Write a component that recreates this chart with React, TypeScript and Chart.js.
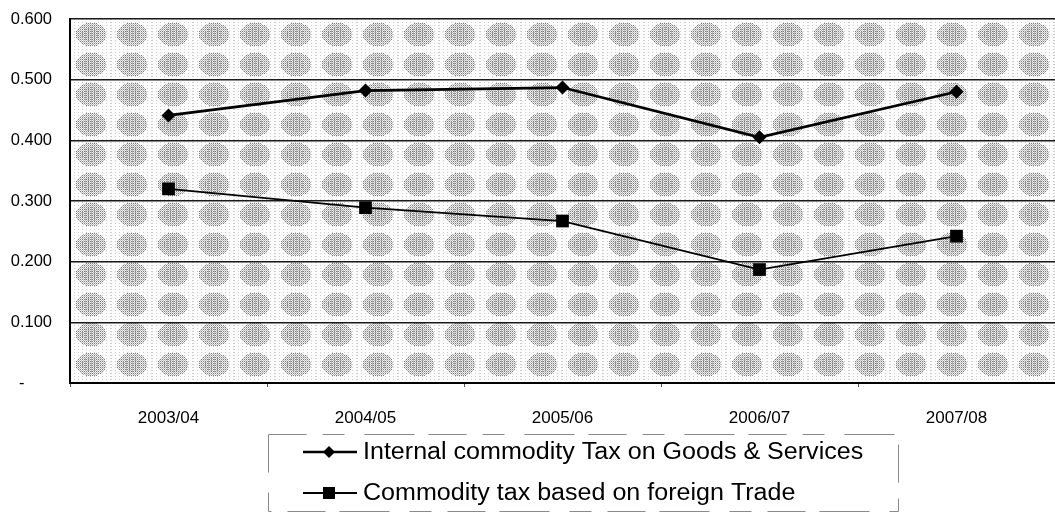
import React, { useEffect, useRef } from "react";
import { Chart, registerables } from "chart.js";

Chart.register(...registerables);

const categories = ["2003/04", "2004/05", "2005/06", "2006/07", "2007/08"];
const internalTax = [0.441, 0.482, 0.487, 0.405, 0.48];
const foreignTradeTax = [0.32, 0.289, 0.267, 0.187, 0.242];
const seriesNames = [
  "Internal commodity Tax on Goods & Services",
  "Commodity tax based on foreign Trade",
];

const FONT = '"Liberation Sans", Arial, sans-serif';

function makeTile(): HTMLCanvasElement {
  const w = 41;
  const h = 30;
  const c = document.createElement("canvas");
  c.width = w;
  c.height = h;
  const g = c.getContext("2d")!;
  const img = g.createImageData(w, h);
  for (let y = 0; y < h; y++) {
    for (let x = 0; x < w; x++) {
      const dx = (x - w / 2) / 15;
      const dy = (y - h / 2) / 12;
      const d = dx * dx + dy * dy;
      let v = 252;
      if (d < 1) {
        if ((x + y) % 2 === 0 && y % 2 === 0) v = 125;
        else if ((x + y) % 2 === 0) v = 190;
        else if (d < 0.35 && x % 3 === 0) v = 165;
        else v = 240;
      } else if (x % 4 === 0 && y % 3 === 0) {
        v = 205;
      }
      const i = (y * w + x) * 4;
      img.data[i] = v;
      img.data[i + 1] = v;
      img.data[i + 2] = v;
      img.data[i + 3] = 255;
    }
  }
  g.putImageData(img, 0, 0);
  return c;
}

const backgroundPlugin = {
  id: "bgPattern",
  beforeDraw(chart: any) {
    const { ctx, chartArea } = chart;
    const tile = makeTile();
    const pattern = ctx.createPattern(tile, "repeat");
    ctx.save();
    ctx.translate(chartArea.left, chartArea.top);
    ctx.fillStyle = pattern;
    ctx.fillRect(0, 0, chartArea.right - chartArea.left, chartArea.bottom - chartArea.top);
    ctx.restore();
  },
};

const legendPlugin = {
  id: "customLegend",
  afterDraw(chart: any) {
    const ctx: CanvasRenderingContext2D = chart.ctx;
    ctx.save();
    ctx.strokeStyle = "#8a8a8a";
    ctx.lineWidth = 1;
    ctx.setLineDash([38, 16, 22, 20, 50, 14]);
    ctx.strokeRect(268.5, 434.5, 630, 77);
    ctx.setLineDash([]);
    const rows = [452, 493];
    chart.data.datasets.forEach((ds: any, i: number) => {
      const y = rows[i];
      ctx.strokeStyle = "#000";
      ctx.lineWidth = ds.borderWidth;
      ctx.beginPath();
      ctx.moveTo(303, y);
      ctx.lineTo(357, y);
      ctx.stroke();
      ctx.fillStyle = "#000";
      ctx.beginPath();
      if (ds.pointStyle === "rectRot") {
        ctx.moveTo(329 - 6, y);
        ctx.lineTo(329, y - 6);
        ctx.lineTo(329 + 6, y);
        ctx.lineTo(329, y + 6);
        ctx.closePath();
      } else {
        ctx.rect(329 - 6, y - 6, 12, 12);
      }
      ctx.fill();
      ctx.save();
      ctx.translate(363, y);
      ctx.scale(1.09, 1);
      ctx.font = `23px ${FONT}`;
      ctx.textBaseline = "middle";
      ctx.textAlign = "left";
      ctx.fillStyle = "#000";
      ctx.fillText(ds.label, 0, 1);
      ctx.restore();
    });
    ctx.restore();
  },
};

export default function App() {
  const ref = useRef<HTMLCanvasElement | null>(null);
  useEffect(() => {
    if (!ref.current) return;
    const chart = new Chart(ref.current, {
      type: "line",
      data: {
        labels: categories,
        datasets: [
          {
            label: seriesNames[0],
            data: internalTax,
            borderColor: "#000",
            backgroundColor: "#000",
            borderWidth: 2.7,
            pointStyle: "rectRot",
            pointRadius: 7,
            pointHoverRadius: 7,
            pointBorderWidth: 0,
            tension: 0,
          },
          {
            label: seriesNames[1],
            data: foreignTradeTax,
            borderColor: "#000",
            backgroundColor: "#000",
            borderWidth: 1.8,
            pointStyle: "rect",
            pointRadius: 9,
            pointHoverRadius: 9,
            pointBorderWidth: 0,
            tension: 0,
          },
        ],
      },
      options: {
        animation: false,
        responsive: false,
        devicePixelRatio: 1,
        layout: { autoPadding: false, padding: { top: 19, right: 0, left: 0, bottom: 0 } },
        plugins: {
          legend: { display: false },
          tooltip: { enabled: false },
          title: { display: false },
        },
        scales: {
          x: {
            type: "category",
            offset: true,
            grid: {
              offset: true,
              drawOnChartArea: false,
              drawTicks: true,
              tickLength: 4,
              color: "#555",
              lineWidth: 1,
            },
            border: { display: true, color: "#000", width: 2 },
            ticks: {
              padding: 21,
              color: "#000",
              font: { family: FONT, size: 17 },
              maxRotation: 0,
            },
            afterFit: (s: any) => {
              s.height = 133;
              s.paddingLeft = 0;
              s.paddingRight = 0;
            },
          },
          y: {
            min: 0,
            max: 0.6,
            grid: {
              color: "#1a1a1a",
              lineWidth: 1.4,
              drawTicks: false,
              tickLength: 0,
            },
            border: { display: true, color: "#000", width: 2 },
            ticks: {
              stepSize: 0.1,
              padding: 18,
              color: "#000",
              font: { family: FONT, size: 16.5 },
              callback: (v: any) => (Number(v) === 0 ? "-      " : Number(v).toFixed(3)),
            },
            afterFit: (s: any) => {
              s.width = 70;
              s.paddingTop = 0;
              s.paddingBottom = 0;
            },
          },
        },
      },
      plugins: [backgroundPlugin, legendPlugin],
    });
    return () => chart.destroy();
  }, []);
  return (
    <div style={{ position: "absolute", left: 0, top: 0, width: 1055, height: 516, background: "#fff" }}>
      <canvas ref={ref} width={1055} height={516} />
    </div>
  );
}
